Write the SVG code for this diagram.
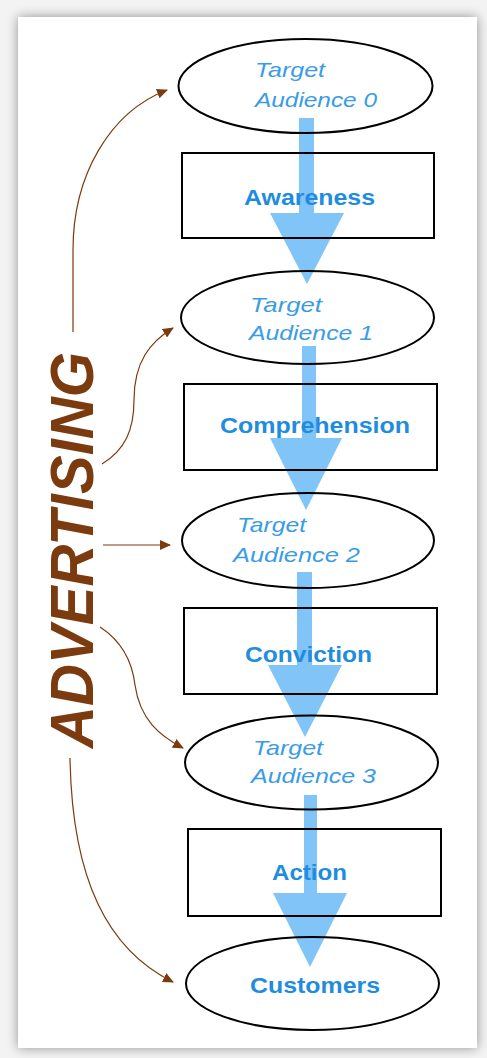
<svg xmlns="http://www.w3.org/2000/svg" width="487" height="1058" viewBox="0 0 487 1058">
  <defs>
    <filter id="panelShadow" x="-10%" y="-10%" width="120%" height="120%">
      <feGaussianBlur stdDeviation="6"/>
    </filter>
    <marker id="brownHead" markerUnits="userSpaceOnUse" markerWidth="12" markerHeight="10" refX="10" refY="5" orient="auto">
      <path d="M0,0 L11,5 L0,10 Z" fill="#7b3b0f"/>
    </marker>
    <style>
      .node { fill: none; stroke: #000000; stroke-width: 2; }
      .stage { font-family: "Liberation Sans", Arial, sans-serif; font-weight: bold; font-size: 22px; fill: #1f8ce0; }
      .aud { font-family: "Liberation Sans", Arial, sans-serif; font-style: italic; font-size: 21px; fill: #3a9ce6; }
      .flow { fill: #56b0f6; opacity: 0.75; }
      .link { fill: none; stroke: #7b3b0f; stroke-width: 1.2; marker-end: url(#brownHead); }
    </style>
  </defs>

  <!-- page backdrop with soft drop shadow -->
  <rect x="0" y="0" width="487" height="1058" fill="#f3f3f3"/>
  <rect x="18" y="17" width="459" height="1031" fill="#000000" opacity="0.4" filter="url(#panelShadow)"/>
  <rect x="18" y="17" width="459" height="1031" fill="#ffffff"/>

  <!-- connectors: funnel flow arrows and advertising links (drawn beneath node outlines and labels) -->
  <g id="connectors">
    <polygon class="flow" points="299,118 314,118 314,213 344,213 307,284 270,213 299,213"/>
    <polygon class="flow" points="302,346 316,346 316,438 342,438 306,510 270,438 302,438"/>
    <polygon class="flow" points="297,572 312,572 312,665 342,665 305,737 268,665 297,665"/>
    <polygon class="flow" points="304,795 317,795 317,893 347,893 310,967 273,893 304,893"/>

    <path class="link" d="M73,332 L73,250 C73,175 110,112 167,90"/>
    <path class="link" d="M102,464 C125,450 134,430 134,400 C134,362 150,342 173,328"/>
    <path class="link" d="M103,545 L170,545"/>
    <path class="link" d="M100,627 C120,640 132,660 135,685 C140,720 160,736 183,748"/>
    <path class="link" d="M70,758 C72,880 108,950 173,982"/>
  </g>

  <!-- audience ellipses and stage boxes -->
  <g id="audience0">
    <ellipse class="node" cx="305.5" cy="86" rx="127" ry="47"/>
    <text class="aud" x="255" y="77" textLength="70" lengthAdjust="spacingAndGlyphs">Target</text>
    <text class="aud" x="255" y="107" textLength="122" lengthAdjust="spacingAndGlyphs">Audience 0</text>
  </g>
  <g id="awareness">
    <rect class="node" x="182" y="153" width="252" height="85"/>
    <text class="stage" x="244" y="205" textLength="131" lengthAdjust="spacingAndGlyphs">Awareness</text>
  </g>
  <g id="audience1">
    <ellipse class="node" cx="307.5" cy="317.5" rx="126.5" ry="46.5"/>
    <text class="aud" x="250" y="312" textLength="72" lengthAdjust="spacingAndGlyphs">Target</text>
    <text class="aud" x="249" y="340" textLength="124" lengthAdjust="spacingAndGlyphs">Audience 1</text>
  </g>
  <g id="comprehension">
    <rect class="node" x="184" y="384" width="253" height="86"/>
    <text class="stage" x="220" y="433" textLength="190" lengthAdjust="spacingAndGlyphs">Comprehension</text>
  </g>
  <g id="audience2">
    <ellipse class="node" cx="308" cy="540.5" rx="126" ry="47.5"/>
    <text class="aud" x="237" y="532" textLength="69" lengthAdjust="spacingAndGlyphs">Target</text>
    <text class="aud" x="233" y="562" textLength="127" lengthAdjust="spacingAndGlyphs">Audience 2</text>
  </g>
  <g id="conviction">
    <rect class="node" x="184" y="608" width="253" height="86"/>
    <text class="stage" x="245" y="662" textLength="127" lengthAdjust="spacingAndGlyphs">Conviction</text>
  </g>
  <g id="audience3">
    <ellipse class="node" cx="311.5" cy="762.5" rx="126.5" ry="47"/>
    <text class="aud" x="253" y="755" textLength="70" lengthAdjust="spacingAndGlyphs">Target</text>
    <text class="aud" x="251" y="783" textLength="125" lengthAdjust="spacingAndGlyphs">Audience 3</text>
  </g>
  <g id="action">
    <rect class="node" x="188" y="829" width="253" height="87"/>
    <text class="stage" x="272" y="880" textLength="75" lengthAdjust="spacingAndGlyphs">Action</text>
  </g>
  <g id="customers">
    <ellipse class="node" cx="312.5" cy="983.5" rx="126.5" ry="46.5"/>
    <text class="stage" x="250" y="993" textLength="130" lengthAdjust="spacingAndGlyphs">Customers</text>
  </g>

  <!-- advertising label -->
  <g id="advertising">
    <text x="0" y="0" transform="translate(93,550) rotate(-90)" text-anchor="middle" font-family="'Liberation Sans', Arial, sans-serif" font-weight="bold" font-style="italic" font-size="61" fill="#7b3b0f" textLength="396" lengthAdjust="spacingAndGlyphs">ADVERTISING</text>
  </g>
</svg>
